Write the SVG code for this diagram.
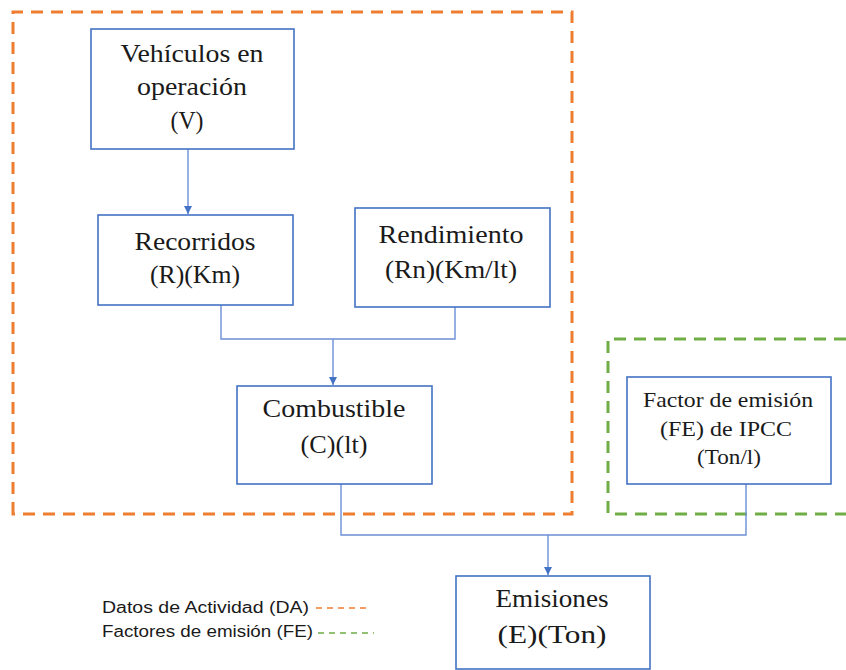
<svg xmlns="http://www.w3.org/2000/svg" width="846" height="670" viewBox="0 0 846 670">
<defs>
<style>
.box{fill:#fff;stroke:#4472C4;stroke-width:1.6}
.t{font-family:"Liberation Serif","Times New Roman",serif;font-size:25px;fill:#1a1a1a;text-anchor:middle}
.ts{font-family:"Liberation Serif","Times New Roman",serif;font-size:21px;fill:#1a1a1a;text-anchor:middle}
.lg{font-family:"Liberation Sans",Arial,sans-serif;font-size:16px;fill:#1a1a1a}
.con{fill:none;stroke:#6C8FD6;stroke-width:1.4}
.da{fill:none;stroke:#ED7D31;stroke-width:3;stroke-dasharray:12 8}
.fe{fill:none;stroke:#70AD47;stroke-width:3;stroke-dasharray:12 8}
</style>
<marker id="arr" markerWidth="10" markerHeight="10" refX="9" refY="5" orient="auto" markerUnits="userSpaceOnUse">
<path d="M1,1 L9,5 L1,9 Z" fill="#4472C4"/>
</marker>
</defs>
<rect width="846" height="670" fill="#fff"/>
<g id="groups">
<path class="da" d="M13,514 L13,12 L572,12 L572,514 Z"/>
<path class="fe" d="M846,339 L608,339 L608,514 L846,514"/>
</g>
<g id="connectors">
<path class="con" d="M188,149 L188,214" marker-end="url(#arr)"/>
<path class="con" d="M221,305 L221,339 L455,339 L455,307"/>
<path class="con" d="M333,339 L333,385" marker-end="url(#arr)"/>
<path class="con" d="M341,484 L341,535 L746,535 L746,484"/>
<path class="con" d="M548,535 L548,575" marker-end="url(#arr)"/>
</g>
<g id="node-v">
<rect class="box" x="91" y="29" width="203" height="120"/>
<text class="t" x="192" y="62" textLength="143" lengthAdjust="spacingAndGlyphs">Vehículos en</text>
<text class="t" x="192" y="95" textLength="110" lengthAdjust="spacingAndGlyphs">operación</text>
<text class="t" x="187" y="129" textLength="33" lengthAdjust="spacingAndGlyphs">(V)</text>
</g>
<g id="node-r">
<rect class="box" x="98" y="215" width="195" height="90"/>
<text class="t" x="195" y="250" textLength="121" lengthAdjust="spacingAndGlyphs">Recorridos</text>
<text class="t" x="195" y="283" textLength="90" lengthAdjust="spacingAndGlyphs">(R)(Km)</text>
</g>
<g id="node-rn">
<rect class="box" x="355" y="208" width="195" height="99"/>
<text class="t" x="451" y="243" textLength="145" lengthAdjust="spacingAndGlyphs">Rendimiento</text>
<text class="t" x="451" y="278" textLength="132" lengthAdjust="spacingAndGlyphs">(Rn)(Km/lt)</text>
</g>
<g id="node-c">
<rect class="box" x="237" y="386" width="195" height="98"/>
<text class="t" x="334" y="417" textLength="143" lengthAdjust="spacingAndGlyphs">Combustible</text>
<text class="t" x="334" y="453" textLength="67" lengthAdjust="spacingAndGlyphs">(C)(lt)</text>
</g>
<g id="node-fe">
<rect class="box" x="627" y="377" width="204" height="107"/>
<text class="ts" x="728" y="407" textLength="170" lengthAdjust="spacingAndGlyphs">Factor de emisión</text>
<text class="ts" x="726" y="436" textLength="132" lengthAdjust="spacingAndGlyphs">(FE) de IPCC</text>
<text class="ts" x="729" y="464" textLength="64" lengthAdjust="spacingAndGlyphs">(Ton/l)</text>
</g>
<g id="node-e">
<rect class="box" x="456" y="576" width="194" height="93"/>
<text class="t" x="552" y="607" textLength="113" lengthAdjust="spacingAndGlyphs">Emisiones</text>
<text class="t" x="552" y="643" textLength="109" lengthAdjust="spacingAndGlyphs">(E)(Ton)</text>
</g>
<g id="legend">
<text class="lg" x="102" y="613" textLength="207" lengthAdjust="spacingAndGlyphs">Datos de Actividad (DA)</text>
<text class="lg" x="102" y="637" textLength="211" lengthAdjust="spacingAndGlyphs">Factores de emisión (FE)</text>
<line x1="316" y1="608" x2="368" y2="608" stroke="#ED7D31" stroke-width="1.5" stroke-dasharray="6 5"/>
<line x1="318" y1="633" x2="374" y2="633" stroke="#70AD47" stroke-width="1.5" stroke-dasharray="6 5"/>
</g>
</svg>
